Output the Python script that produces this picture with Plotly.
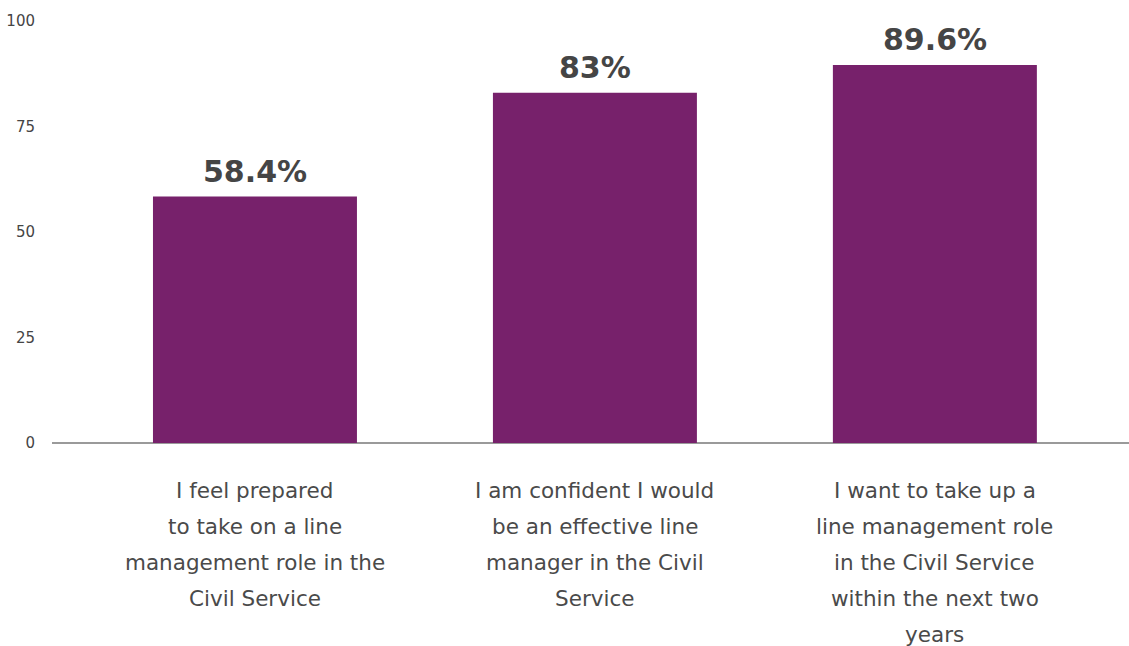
import plotly.graph_objects as go

# Survey statements (one entry per line of the wrapped label) and the share agreeing
categories = [
    ["I feel prepared", "to take on a line", "management role in the", "Civil Service"],
    ["I am confident I would", "be an effective line", "manager in the Civil", "Service"],
    ["I want to take up a", "line management role", "in the Civil Service", "within the next two", "years"],
]
values = [58.4, 83, 89.6]
value_labels = ["58.4%", "83%", "89.6%"]
y_ticks = [0, 25, 50, 75, 100]

BAR_COLOR = "#77216b"
TEXT_COLOR = "#454545"
FONT = "DejaVu Sans, Liberation Sans, Arial, sans-serif"

positions = list(range(len(values)))

fig = go.Figure(
    go.Bar(
        x=positions,
        y=values,
        width=0.6,
        marker=dict(color=BAR_COLOR, line=dict(width=0)),
        hoverinfo="skip",
    )
)

annotations = []
# Value labels above each bar
for pos, val, lab in zip(positions, values, value_labels):
    annotations.append(dict(
        x=pos, y=val, xref="x", yref="y", text=f"<b>{lab}</b>",
        showarrow=False, yanchor="bottom", yshift=6,
        font=dict(family=FONT, size=30, color=TEXT_COLOR),
    ))

# Wrapped category labels under the axis, one annotation per line
LINE_GAP = 36
for pos, lines in zip(positions, categories):
    for k, line in enumerate(lines):
        annotations.append(dict(
            x=pos, y=0, xref="x", yref="paper", text=line,
            showarrow=False, yanchor="middle", yshift=-(47 + k * LINE_GAP),
            borderpad=0,
            font=dict(family=FONT, size=21.5, color="#4a4a4a"),
        ))

fig.update_layout(
    width=1129, height=646,
    margin=dict(l=52, r=0, t=21, b=203),
    paper_bgcolor="white", plot_bgcolor="white",
    showlegend=False,
    annotations=annotations,
    xaxis=dict(
        range=[-0.597, 2.571], showticklabels=False, showgrid=False,
        zeroline=False, showline=False, fixedrange=True,
    ),
    yaxis=dict(
        range=[0, 100], tickvals=y_ticks, ticks="", showgrid=False,
        zeroline=True, zerolinecolor="#9a9a9a", zerolinewidth=2,
        showline=False, ticklabelstandoff=16,
        tickfont=dict(family=FONT, size=15, color=TEXT_COLOR),
        fixedrange=True,
    ),
)

fig.write_html("out.html")
